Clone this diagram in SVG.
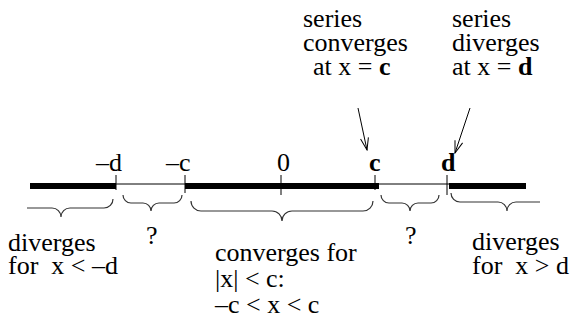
<svg xmlns="http://www.w3.org/2000/svg" width="577" height="323" viewBox="0 0 577 323">
<style>
text{font-family:"Liberation Serif","Times New Roman",serif;font-size:26px;fill:#000;white-space:pre}
.b{font-weight:bold;font-family:"Liberation Serif","Times New Roman",serif}
.brace{fill:none;stroke:#333;stroke-width:1.2}
.tick{stroke:#000;stroke-width:1}
.thick{fill:#000}
.arrow{stroke:#000;stroke-width:1;fill:none}
</style>
<defs>
<marker id="ah" viewBox="-13 -6 14 12" refX="0" refY="0" markerWidth="14" markerHeight="12" markerUnits="userSpaceOnUse" orient="auto">
<path d="M-12,-4 L0,0 L-12,4" fill="none" stroke="#000" stroke-width="1"/>
</marker>
</defs>
<g id="numberline">
<line x1="30" y1="184" x2="526" y2="184" stroke="#000" stroke-width="1"/>
<rect class="thick" x="30" y="183" width="86" height="6"/>
<rect class="thick" x="185" y="183" width="194" height="6"/>
<rect class="thick" x="449" y="183" width="77" height="6"/>
<line class="tick" x1="116" y1="175" x2="116" y2="190"/>
<line class="tick" x1="185" y1="175" x2="185" y2="193"/>
<line class="tick" x1="281" y1="175" x2="281" y2="195"/>
<line class="tick" x1="375" y1="175" x2="375" y2="190"/>
<line class="tick" x1="447" y1="175" x2="447" y2="195"/>
<text x="96" y="171">–d</text>
<text x="166" y="171">–c</text>
<text x="277" y="171">0</text>
<text class="b" x="369" y="171">c</text>
<text class="b" x="441" y="171">d</text>
</g>
<g id="braces">
<path class="brace" d="M27,208 L52,208 A9,9 0 0 1 61,217 A9,9 0 0 1 70,208 L104,208 A9,9 0 0 0 113,199"/>
<path class="brace" d="M123,195 A8,8 0 0 0 131,203 L143,203 A8,8 0 0 1 151,211 A8,8 0 0 1 159,203 L174,203 A8,8 0 0 0 182,195"/>
<path class="brace" d="M191,201 A10,10 0 0 0 201,211 L272,211 A10,10 0 0 1 282,221 A10,10 0 0 1 292,211 L363,211 A10,10 0 0 0 373,201"/>
<path class="brace" d="M381,195 A8,8 0 0 0 389,203 L402,203 A8,8 0 0 1 410,211 A8,8 0 0 1 418,203 L431,203 A8,8 0 0 0 439,195"/>
<path class="brace" d="M451,193 A9,9 0 0 0 460,202 L498,202 A9,9 0 0 1 507,211 A9,9 0 0 1 516,202 L540,202"/>
</g>
<g id="label-converges-at-c">
<text x="303" y="27">series</text>
<text x="303" y="51">converges</text>
<text x="313" y="75">at x = <tspan class="b">c</tspan></text>
</g>
<g id="label-diverges-at-d">
<text x="452" y="27">series</text>
<text x="452" y="51">diverges</text>
<text x="452" y="75">at x = <tspan class="b">d</tspan></text>
</g>
<g id="connectors">
<line class="arrow" x1="358" y1="108" x2="367" y2="150" marker-end="url(#ah)"/>
<line class="arrow" x1="470" y1="108" x2="455" y2="153" marker-end="url(#ah)"/>
</g>
<g id="label-left">
<text x="8" y="251">diverges</text>
<text x="8" y="274">for  x &lt; –d</text>
</g>
<g id="q1"><text x="146" y="244">?</text></g>
<g id="label-middle">
<text x="215" y="261">converges for</text>
<text x="215" y="287">|x| &lt; c:</text>
<text x="215" y="313">–c &lt; x &lt; c</text>
</g>
<g id="q2"><text x="405" y="244">?</text></g>
<g id="label-right">
<text x="472" y="250">diverges</text>
<text x="472" y="274">for  x &gt; d</text>
</g>
</svg>
